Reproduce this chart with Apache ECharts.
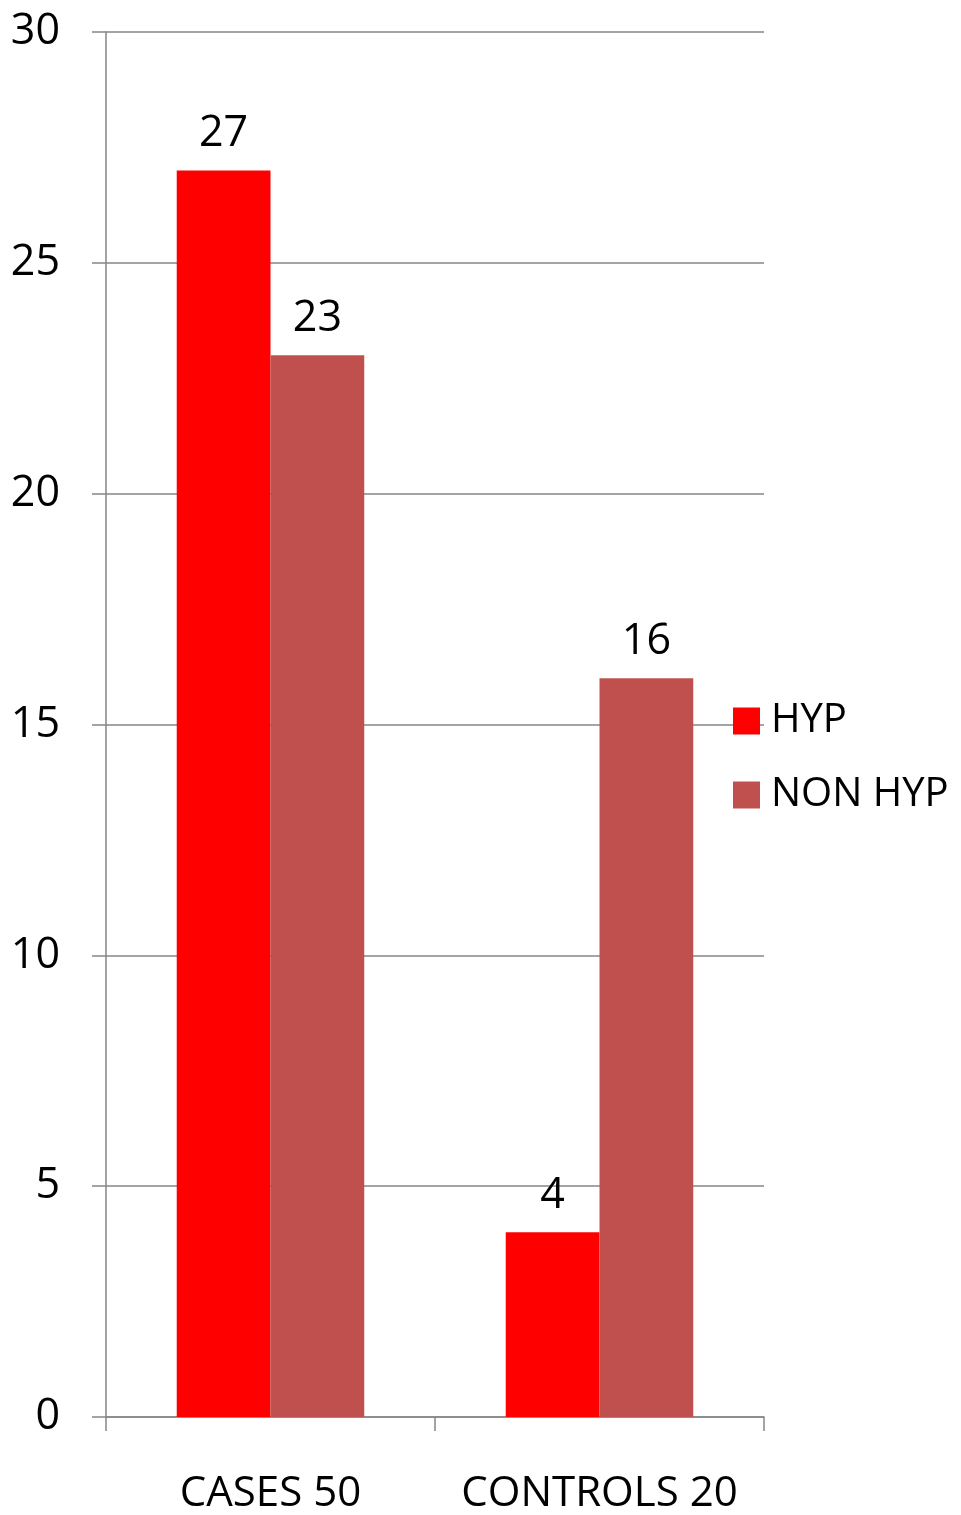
<!DOCTYPE html>
<html>
<head>
<meta charset="utf-8">
<script src="https://cdn.jsdelivr.net/npm/echarts@6/dist/echarts.min.js"></script>
<style>
  html, body { margin: 0; padding: 0; background: #ffffff; }
  #chart { width: 961px; height: 1515px; }
</style>
</head>
<body>
<div id="chart"></div>
<script>
// Groups and counts
const categories = ['CASES 50', 'CONTROLS 20'];
const hypValues = [27, 4];
const nonHypValues = [23, 16];
const seriesNames = ['HYP', 'NON HYP'];

const axisGray = '#868686';
const fontFamily = '"Open Sans", "Noto Sans", sans-serif';

const chart = echarts.init(document.getElementById('chart'));

const valueLabel = {
  show: true,
  position: 'top',
  distance: 15,
  color: '#000',
  fontSize: 43,
  fontFamily: fontFamily
};

chart.setOption({
  animation: false,
  backgroundColor: '#ffffff',
  grid: { left: 106, right: 197, top: 32, bottom: 98, outerBoundsMode: 'none', containLabel: false },
  legend: {
    orient: 'vertical',
    left: 733,
    top: 700,
    padding: 0,
    itemWidth: 27,
    itemHeight: 27,
    itemGap: 32,
    icon: 'rect',
    data: seriesNames,
    textStyle: {
      color: '#000',
      fontSize: 40,
      fontFamily: fontFamily,
      lineHeight: 42,
      padding: [0, 0, 0, 6]
    }
  },
  xAxis: {
    type: 'category',
    data: categories,
    axisLine: { show: true, lineStyle: { color: axisGray, width: 1.5 } },
    axisTick: { show: true, length: 14, interval: 0, alignWithLabel: false, lineStyle: { color: axisGray, width: 1.5 } },
    axisLabel: { color: '#000', fontSize: 42, fontFamily: fontFamily, margin: 56, interval: 0, hideOverlap: false },
    splitLine: { show: false }
  },
  yAxis: {
    type: 'value',
    min: 0,
    max: 30,
    interval: 5,
    axisLine: { show: true, lineStyle: { color: axisGray, width: 1.5 } },
    axisTick: { show: true, length: 14, lineStyle: { color: axisGray, width: 1.5 } },
    axisLabel: { color: '#000', fontSize: 43, fontFamily: fontFamily, margin: 46 },
    splitLine: { show: true, lineStyle: { color: axisGray, width: 1.5 } }
  },
  series: [
    {
      name: seriesNames[0],
      type: 'bar',
      data: hypValues,
      barGap: '0%',
      barCategoryGap: '43%',
      itemStyle: { color: '#ff0000' },
      label: valueLabel
    },
    {
      name: seriesNames[1],
      type: 'bar',
      data: nonHypValues,
      barGap: '0%',
      barCategoryGap: '43%',
      itemStyle: { color: '#c0504d' },
      label: valueLabel
    }
  ]
});
</script>
</body>
</html>
